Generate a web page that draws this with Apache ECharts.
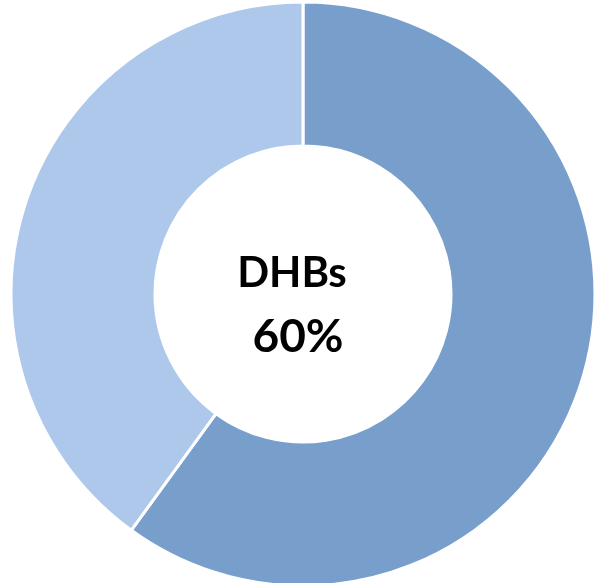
<!DOCTYPE html>
<html>
<head>
<meta charset="utf-8">
<script src="https://cdn.jsdelivr.net/npm/echarts@6/dist/echarts.min.js"></script>
<style>
html,body{margin:0;padding:0;background:#fff;}
#chart{width:601px;height:583px;}
</style>
</head>
<body>
<div id="chart"></div>
<script>
var categories = ['DHBs', 'Other'];
var values = [60, 40];
var colors = ['#789FCC', '#AEC8EC'];
var centerLabel = ['DHBs', '60%'];

var chart = echarts.init(document.getElementById('chart'));
chart.setOption({
  animation: false,
  series: [{
    type: 'pie',
    center: [303, 294],
    radius: [148, 292],
    startAngle: 90,
    clockwise: true,
    label: { show: false },
    labelLine: { show: false },
    itemStyle: { borderColor: '#ffffff', borderWidth: 3 },
    data: categories.map(function (c, i) {
      return { name: c, value: values[i], itemStyle: { color: colors[i] } };
    })
  }],
  graphic: [
    {
      type: 'text', x: 292, y: 273,
      style: { text: centerLabel[0], font: 'bold 42px Lato', fill: '#000', align: 'center', verticalAlign: 'middle' }
    },
    {
      type: 'text', x: 298, y: 337,
      style: { text: centerLabel[1], font: 'bold 46px Lato', fill: '#000', align: 'center', verticalAlign: 'middle' }
    }
  ]
});
</script>
</body>
</html>
